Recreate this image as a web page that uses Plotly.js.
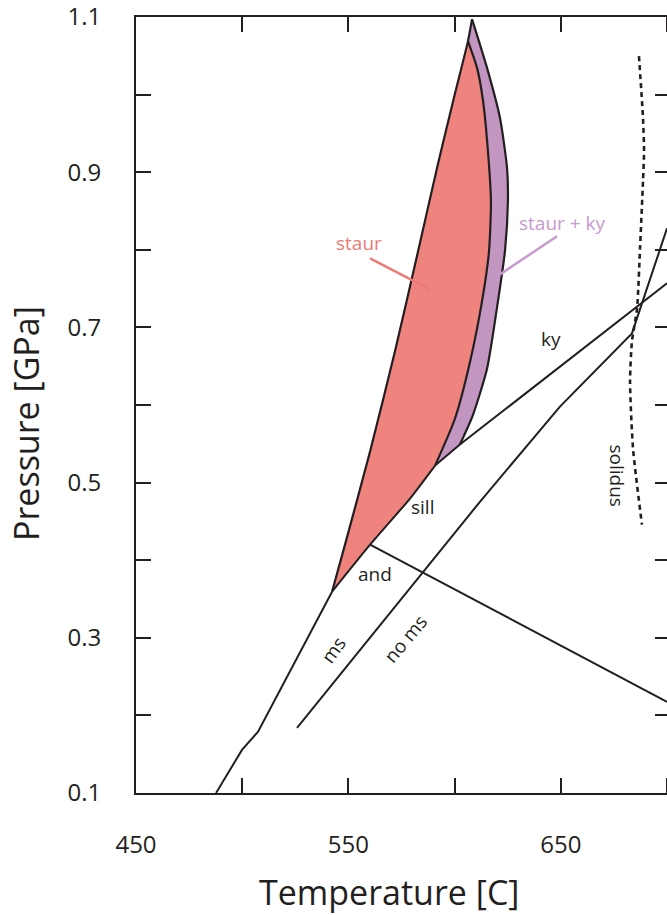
<!DOCTYPE html>
<html>
<head>
<meta charset="utf-8">
<script src="https://cdn.plot.ly/plotly-3.0.1.min.js"></script>
<style>
html,body{margin:0;padding:0;background:#ffffff;overflow:hidden;}
#chart{width:670px;height:915px;}
</style>
</head>
<body>
<div id="chart"></div>
<script>
// ---- data (Temperature [C], Pressure [GPa]) ----
const msLineT = [487.7, 499.9, 507.4, 542.3];
const msLineP = [0.100, 0.1555, 0.1787, 0.3594];

const staurLeftT = [542.3, 547.5, 560.2, 571.9, 582.8, 591.7, 599.3, 606.3, 608.2];
const staurLeftP = [0.3594, 0.411, 0.540, 0.669, 0.7981, 0.9052, 0.9916, 1.069, 1.0974];

const staurRightT = [606.3, 610.6, 613.4, 615.7, 617.1, 616.2, 612.9, 607.3, 600.2, 590.8];
const staurRightP = [1.069, 1.0342, 0.9916, 0.9271, 0.8626, 0.7981, 0.7335, 0.6561, 0.5826, 0.5219];

const staurKyT = [608.2, 615.3, 621.4, 624.7, 625.1, 623.7, 620.4, 615.3, 608.7, 602.5];
const staurKyP = [1.0974, 1.0342, 0.9697, 0.9052, 0.8626, 0.7981, 0.7335, 0.6471, 0.5877, 0.5490];

const sillAndT = [542.3, 560.2, 579.0, 590.8];
const sillAndP = [0.3594, 0.4200, 0.4794, 0.5219];

const kySillT = [590.8, 602.5, 700.0];
const kySillP = [0.5219, 0.5490, 0.7568];

const andLineT = [560.2, 700.0];
const andLineP = [0.4200, 0.2174];

const noMsT = [525.8, 585.1, 612.0, 649.6, 683.5, 700.0];
const noMsP = [0.1839, 0.3852, 0.4755, 0.5980, 0.6923, 0.8277];

const solidusT = [686.8, 688.7, 689.2, 688.7, 687.3, 685.9, 683.5, 682.6, 684.0, 688.2];
const solidusP = [1.0497, 0.9697, 0.9271, 0.8884, 0.8019, 0.7245, 0.6819, 0.6303, 0.5439, 0.4458];

const staurPointerT = [560.2, 588.4];
const staurPointerP = [0.789, 0.749];
const kyPointerT = [648.2, 621.4];
const kyPointerP = [0.8174, 0.7684];

const labelTexts = ['staur', 'staur + ky', 'ky', 'sill', 'and', 'ms', 'no ms', 'solidus'];
const labelT = [555.0, 650.6, 645.4, 584.7, 562.5, 542.8, 576.7, 676.5];
const labelP = [0.8084, 0.8342, 0.6845, 0.4690, 0.3826, 0.2845, 0.2987, 0.5090];

const xTickVals = [450, 500, 550, 600, 650, 700];
const xTickText = ['450', '', '550', '', '650', ''];
const yTickVals = [0.1, 0.2, 0.3, 0.4, 0.5, 0.6, 0.7, 0.8, 0.9, 1.0, 1.1];
const yTickText = ['0.1', '', '0.3', '', '0.5', '', '0.7', '', '0.9', '', '1.1'];

// ---- styles ----
const INK = '#231f20';
const RED = '#ef837e';
const PURPLE = '#c396c1';
const RED_TXT = '#f07a76';
const PURPLE_TXT = '#c99ad0';
const FONT = 'Open Sans, DejaVu Sans, sans-serif';

const apex = 7; // index in staurLeft where the staur region closes
// red (staurolite) region polygon
const redT = staurLeftT.slice(0, apex + 1).concat(staurRightT.slice(1), sillAndT.slice(0, -1).reverse());
const redP = staurLeftP.slice(0, apex + 1).concat(staurRightP.slice(1), sillAndP.slice(0, -1).reverse());
// purple (staurolite + kyanite) region polygon
const purT = staurLeftT.slice(apex).concat(staurKyT.slice(1), [kySillT[0]], staurRightT.slice(0, -1).reverse());
const purP = staurLeftP.slice(apex).concat(staurKyP.slice(1), [kySillP[0]], staurRightP.slice(0, -1).reverse());

function line(x, y, color, width, dash, shape) {
  return {x: x, y: y, type: 'scatter', mode: 'lines', hoverinfo: 'skip', showlegend: false,
          line: {color: color, width: width, dash: dash || 'solid', shape: shape || 'linear', smoothing: 0.6}};
}

const traces = [
  {x: redT, y: redP, type: 'scatter', mode: 'lines', fill: 'toself', fillcolor: RED,
   line: {width: 0, color: RED}, showlegend: false, hoverinfo: 'skip'},
  {x: purT, y: purP, type: 'scatter', mode: 'lines', fill: 'toself', fillcolor: PURPLE,
   line: {width: 0, color: PURPLE}, showlegend: false, hoverinfo: 'skip'},
  line(msLineT, msLineP, INK, 2),
  line(staurLeftT, staurLeftP, INK, 2.2, 'solid', 'spline'),
  line(staurRightT, staurRightP, INK, 2.2, 'solid', 'spline'),
  line(staurKyT, staurKyP, INK, 2.2, 'solid', 'spline'),
  line(sillAndT, sillAndP, INK, 2, 'solid', 'spline'),
  line(kySillT, kySillP, INK, 2),
  line(andLineT, andLineP, INK, 2),
  line(noMsT, noMsP, INK, 2),
  line(solidusT, solidusP, INK, 2.6, '5px,4px', 'spline'),
  line(staurPointerT, staurPointerP, RED_TXT, 2.5),
  line(kyPointerT, kyPointerP, PURPLE_TXT, 2.5)
];

const labelColors = [RED_TXT, PURPLE_TXT, INK, INK, INK, INK, INK, INK];
const labelAngles = [0, 0, 0, 0, 0, -54, -50, 90];
const annotations = labelTexts.map((t, i) => ({
  x: labelT[i], y: labelP[i], xref: 'x', yref: 'y', text: t, showarrow: false,
  textangle: labelAngles[i], font: {family: FONT, size: 19, color: labelColors[i]},
  xanchor: 'center', yanchor: 'middle'
}));
annotations.push({xref: 'paper', yref: 'paper', x: 0.4738, y: -0.1276, text: 'Temperature [C]',
  showarrow: false, font: {family: FONT, size: 34, color: INK}, xanchor: 'center', yanchor: 'middle'});
annotations.push({xref: 'paper', yref: 'paper', x: -0.206, y: 0.4768, text: 'Pressure [GPa]',
  textangle: -90, showarrow: false, font: {family: FONT, size: 34, color: INK}, xanchor: 'center', yanchor: 'middle'});

const axisCommon = {
  showline: true, linecolor: INK, linewidth: 2, mirror: 'ticks',
  ticks: 'inside', ticklen: 15, tickwidth: 2, tickcolor: INK,
  showgrid: false, zeroline: false, tickmode: 'array', ticklabeloverflow: 'allow',
  tickfont: {family: FONT, size: 24, color: INK}
};

const layout = {
  width: 670, height: 915,
  margin: {l: 136, r: 0, t: 17, b: 122, pad: 0},
  paper_bgcolor: '#ffffff', plot_bgcolor: '#ffffff',
  xaxis: Object.assign({}, axisCommon, {range: [450, 700 + 3/2.124], tickvals: xTickVals, ticktext: xTickText,
    ticklabelstandoff: 29}),
  yaxis: Object.assign({}, axisCommon, {range: [0.0999, 1.1001], tickvals: yTickVals, ticktext: yTickText,
    ticklabelstandoff: 28}),
  annotations: annotations,
  showlegend: false
};

Plotly.newPlot('chart', traces, layout, {staticPlot: true, displayModeBar: false});
</script>
</body>
</html>
